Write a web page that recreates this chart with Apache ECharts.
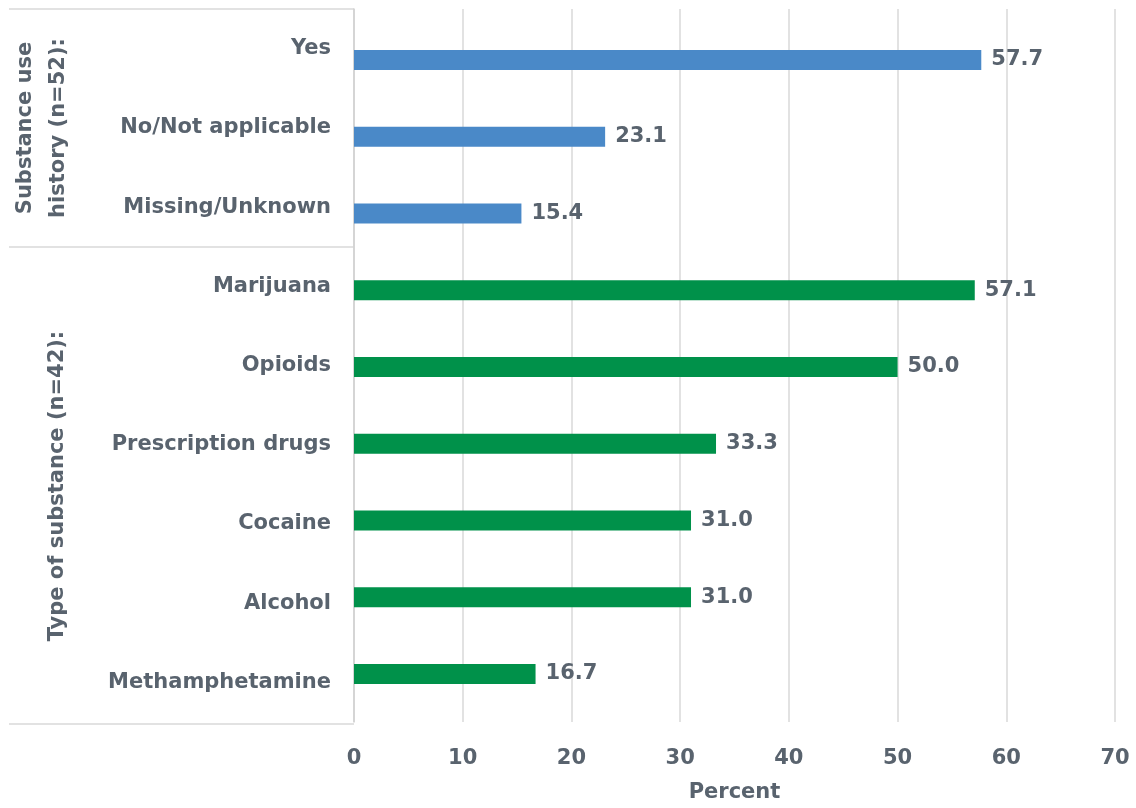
<!DOCTYPE html>
<html>
<head>
    <meta charset="utf-8">
    <script src="https://cdn.jsdelivr.net/npm/echarts@6/dist/echarts.min.js"></script>
</head>
<body style="margin:0">
<div id="main" style="width: 1136px;height:808px;"></div>
<script type="text/javascript">
    // data, top to bottom
    var categories = ['Yes', 'No/Not applicable', 'Missing/Unknown',
        'Marijuana', 'Opioids', 'Prescription drugs', 'Cocaine', 'Alcohol', 'Methamphetamine'];
    var values = [57.7, 23.1, 15.4, 57.1, 50.0, 33.3, 31.0, 31.0, 16.7];
    var groupOf = [0, 0, 0, 1, 1, 1, 1, 1, 1];
    var groupNames = ['Substance use\nhistory (n=52):', 'Type of substance (n=42):'];
    var groupColors = ['#4A89C8', '#00914A'];
    var xTicks = [0, 70, 10];   // min, max, interval

    var textColor = '#59636e';
    var fontFam = '"DejaVu Sans", sans-serif';
    var fs = 21;

    var myChart = echarts.init(document.getElementById('main'));

    var barData = values.map(function (v, i) {
        return { value: v, itemStyle: { color: groupColors[groupOf[i]] } };
    });

    var lineStyle = { stroke: '#d9d9d9', lineWidth: 1.5 };

    option = {
        backgroundColor: '#fff',
        textStyle: { fontFamily: fontFam },
        // grid 0 carries the axis, labels and gridlines; grid 1 carries the bars (as in the original, slightly inset)
        grid: [
            { left: 354, right: 21, top: 9, bottom: 84 },
            { left: 354, right: 21, top: 21.6, bottom: 95.6 }
        ],
        xAxis: [
            {
                gridIndex: 0,
                type: 'value',
                min: xTicks[0], max: xTicks[1], interval: xTicks[2],
                name: 'Percent',
                nameLocation: 'middle',
                nameGap: 60,
                nameTextStyle: { color: textColor, fontSize: fs, fontWeight: 'bold', fontFamily: fontFam },
                axisLine: { show: false },
                axisTick: { show: false },
                axisLabel: { color: textColor, fontSize: fs, fontWeight: 'bold', margin: 26, fontFamily: fontFam },
                splitLine: { lineStyle: { color: '#d9d9d9', width: 1.5 } }
            },
            {
                gridIndex: 1,
                type: 'value',
                min: xTicks[0], max: xTicks[1],
                show: false
            }
        ],
        yAxis: [
            {
                gridIndex: 0,
                type: 'category',
                data: categories,
                inverse: true,
                axisLine: { show: true, lineStyle: { color: '#d0d0d0', width: 1.5 } },
                axisTick: { show: false },
                axisLabel: { color: textColor, fontSize: fs, fontWeight: 'bold', margin: 23, fontFamily: fontFam }
            },
            {
                gridIndex: 1,
                type: 'category',
                data: categories,
                inverse: true,
                show: false
            }
        ],
        graphic: [
            { type: 'line', shape: { x1: 9, y1: 9, x2: 354, y2: 9 }, style: lineStyle, silent: true },
            { type: 'line', shape: { x1: 9, y1: 247, x2: 354, y2: 247 }, style: lineStyle, silent: true },
            { type: 'line', shape: { x1: 9, y1: 724, x2: 354, y2: 724 }, style: lineStyle, silent: true },
            {
                type: 'text', x: 42, y: 128, rotation: Math.PI / 2,
                style: {
                    text: groupNames[0], fill: textColor, font: 'bold ' + fs + 'px ' + fontFam,
                    align: 'center', verticalAlign: 'middle', lineHeight: 33
                }
            },
            {
                type: 'text', x: 58, y: 486, rotation: Math.PI / 2,
                style: {
                    text: groupNames[1], fill: textColor, font: 'bold ' + fs + 'px ' + fontFam,
                    align: 'center', verticalAlign: 'middle'
                }
            }
        ],
        series: [
            {
                type: 'bar',
                xAxisIndex: 1,
                yAxisIndex: 1,
                barWidth: 20,
                data: barData,
                label: {
                    show: true,
                    position: 'right',
                    distance: 10,
                    color: textColor,
                    fontSize: fs,
                    fontWeight: 'bold',
                    fontFamily: fontFam,
                    formatter: function (p) { return p.value.toFixed(1); }
                }
            }
        ]
    };
    myChart.setOption(option);
</script>
</body>
</html>
